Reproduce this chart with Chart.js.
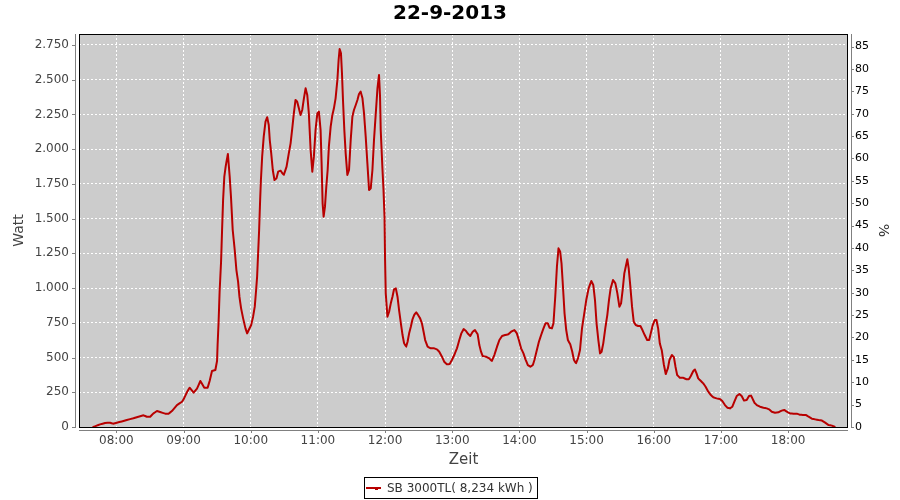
<!DOCTYPE html>
<html><head><meta charset="utf-8">
<script src="https://cdn.jsdelivr.net/npm/chart.js@4.4.0/dist/chart.umd.min.js"></script>
<style>html,body{margin:0;padding:0;background:#fff;}</style>
</head><body>
<canvas id="c" width="900" height="500"></canvas>
<script>
const chartTitle = '22-9-2013';
const seriesLabel = 'SB 3000TL( 8,234 kWh )';
const xTitle = 'Zeit';
const yTitle = 'Watt';
const y2Title = '%';
// time of day, minutes after midnight
const times = [
459.4,462.4,465.4,469.9,474.4,477.0,480.4,484.8,489.3,495.2,
499.7,504.2,507.2,510.2,513.1,516.2,519.1,523.6,526.6,529.6,
534.1,538.6,540.0,543.0,545.4,549.0,552.0,555.0,558.5,561.5,
563.3,565.4,568.4,569.9,570.4,571.3,572.2,573.5,574.4,575.3,
576.4,577.6,578.5,579.6,581.2,582.4,583.9,585.7,587.2,588.7,
589.9,591.4,593.2,595.3,596.8,598.2,600.4,602.1,603.6,604.8,
605.7,606.6,607.5,608.4,609.1,610.2,611.6,613.2,614.7,616.1,
617.0,618.3,619.7,621.2,623.0,624.5,626.6,629.5,632.0,634.0,
635.6,637.1,638.5,640.0,641.5,643.0,644.5,646.0,647.5,649.0,
650.5,651.9,653.5,655.0,656.4,657.9,659.5,660.9,662.4,663.3,
664.2,665.1,666.3,667.5,668.7,669.8,671.4,672.9,674.3,675.8,
677.4,678.5,679.4,680.6,681.5,682.4,683.6,684.8,686.3,687.8,
689.3,690.8,692.2,693.8,695.3,696.7,698.2,699.8,701.2,702.7,
704.2,705.7,707.2,708.7,710.1,711.7,713.2,714.6,715.5,716.1,
717.7,718.6,719.5,720.0,720.6,722.1,723.6,725.1,726.6,728.0,
729.6,731.1,732.5,734.1,735.6,737.0,738.8,740.1,741.5,743.0,
744.5,746.0,747.8,749.5,751.3,752.9,754.4,755.8,758.0,760.9,
763.9,766.3,768.4,770.8,772.8,775.2,777.7,779.7,781.8,784.2,
786.3,788.1,790.2,792.3,794.3,796.1,798.3,800.3,802.7,804.2,
805.7,807.2,810.2,813.1,815.3,817.6,820.0,822.1,824.5,827.2,
830.1,832.6,835.5,837.7,839.5,841.5,843.6,845.4,847.5,849.8,
852.0,853.4,855.2,857.4,859.4,861.5,863.3,865.4,866.9,869.0,
870.4,872.0,873.5,874.9,876.4,877.6,878.9,880.3,881.8,883.3,
885.4,887.2,888.7,890.5,892.3,894.1,895.9,897.7,899.7,901.8,
904.2,906.0,907.5,908.9,910.5,912.0,913.4,914.9,916.7,918.5,
920.0,921.5,923.6,925.7,927.5,929.3,930.8,932.2,933.7,935.3,
936.4,937.6,939.1,940.6,942.1,943.9,946.0,948.1,949.9,951.9,
954.1,955.9,957.3,959.1,960.9,962.4,963.9,965.4,967.2,969.0,
970.7,972.6,974.0,976.2,978.0,979.4,980.9,983.3,986.0,989.3,
991.3,993.1,995.3,996.7,998.2,999.7,1002.1,1004.2,1006.3,1008.7,
1011.0,1013.2,1016.1,1019.1,1021.2,1023.6,1025.7,1028.1,1030.2,1032.0,
1034.1,1036.5,1038.5,1040.6,1043.0,1045.1,1046.9,1048.1,1049.9,1052.0,
1054.9,1058.0,1060.9,1063.0,1065.4,1068.3,1071.4,1074.3,1076.8,1078.8,
1081.8,1084.8,1087.8,1090.2,1093.2,1096.1,1098.3,1101.2,1104.2,1107.2,
1110.2,1113.1,1116.2,1119.1,1121.5
];
// power in watt
const watts = [
0,10,19,29,31,24,31,40,50,63,
74,84,74,74,98,115,108,96,96,115,
158,182,199,250,283,247,276,331,283,283,
331,403,410,475,590,758,974,1190,1418,1632,
1802,1874,1917,1965,1802,1650,1418,1274,1130,1046,
938,854,782,710,674,698,734,794,866,986,
1082,1250,1418,1634,1778,1946,2090,2198,2230,2174,
2066,1970,1850,1778,1790,1838,1845,1814,1874,1970,
2042,2150,2258,2354,2342,2294,2246,2282,2366,2438,
2390,2258,1994,1838,1946,2138,2258,2270,2138,1898,
1610,1514,1586,1730,1850,2018,2162,2246,2294,2366,
2498,2642,2721,2690,2546,2354,2138,1970,1814,1850,
2066,2234,2282,2318,2354,2397,2414,2366,2258,2090,
1898,1706,1718,1850,2066,2258,2438,2534,2378,2138,
1850,1706,1514,1202,962,794,830,890,938,991,
998,938,842,746,662,602,578,614,674,722,
775,806,826,806,782,746,686,626,578,566,
566,559,542,506,470,451,453,482,518,566,
626,674,705,691,669,655,686,698,667,590,
542,511,506,494,475,518,578,626,655,662,
667,686,698,674,626,566,530,487,446,434,
446,482,542,614,662,710,746,746,715,710,
746,938,1154,1286,1262,1178,1010,818,698,626,
595,542,482,458,494,554,710,806,914,998,
1051,1022,914,746,626,530,542,602,710,806,
914,998,1058,1034,962,866,890,986,1106,1166,
1207,1142,1010,866,758,734,727,727,698,662,
626,626,674,734,770,770,710,602,550,450,
381,422,482,518,502,434,374,355,355,343,
343,367,403,415,386,350,331,314,290,254,
230,214,206,202,187,158,139,134,146,182,
223,238,223,190,194,223,226,206,175,158,
146,139,134,127,110,103,106,118,122,110,
98,96,96,89,86,86,74,60,55,50,
46,31,14,10,2
];
// axis ranges
const xRange = [446.6, 1133.5];   // 07:27 .. 18:53
const wattRange = [0, 2829];
const pctRange = [0, 87.8];
const wattStep = 250, pctStep = 5, hourStep = 60;

const FONT = 'DejaVu Sans';
Chart.defaults.font.family = FONT;
const lineColor = '#b80000';

function fmtWatt(v){ return String(Math.round(v)).replace(/\B(?=(\d{3})+(?!\d))/g, '.'); }
function fmtTime(v){ const h=Math.floor(v/60), m=Math.round(v%60); return String(h).padStart(2,'0')+':'+String(m).padStart(2,'0'); }

const frame = {
  id: 'frame',
  beforeDraw(chart){
    const a = chart.chartArea, ctx = chart.ctx;
    ctx.save();
    ctx.fillStyle = '#ffffff'; ctx.fillRect(0,0,chart.width,chart.height);
    ctx.fillStyle = '#cccccc'; ctx.fillRect(a.left, a.top, a.right-a.left, a.bottom-a.top);
    ctx.restore();
  },
  afterDraw(chart){
    const a = chart.chartArea, ctx = chart.ctx;
    ctx.save();
    // plot outline
    ctx.strokeStyle = '#000'; ctx.lineWidth = 1;
    ctx.strokeRect(a.left+0.5, a.top+0.5, a.right-a.left-1, a.bottom-a.top);
    // offset axis lines
    ctx.strokeStyle = '#808080';
    ctx.beginPath();
    ctx.moveTo(a.left-3.5, a.top); ctx.lineTo(a.left-3.5, a.bottom+1);
    ctx.moveTo(a.right+3.5, a.top); ctx.lineTo(a.right+3.5, a.bottom+1);
    ctx.moveTo(a.left, a.bottom+3.5); ctx.lineTo(a.right, a.bottom+3.5);
    ctx.stroke();
    // tick marks
    const sy = chart.scales.y, sy1 = chart.scales.y1, sx = chart.scales.x;
    ctx.beginPath();
    sy.ticks.forEach(t => { const p = Math.round(sy.getPixelForValue(t.value))+0.5; ctx.moveTo(a.left-7, p); ctx.lineTo(a.left-3, p); });
    sy1.ticks.forEach(t => { const p = Math.round(sy1.getPixelForValue(t.value))+0.5; ctx.moveTo(a.right+3, p); ctx.lineTo(a.right+6, p); });
    sx.ticks.forEach(t => { const p = Math.round(sx.getPixelForValue(t.value))+0.5; ctx.moveTo(p, a.bottom+3); ctx.lineTo(p, a.bottom+6); });
    ctx.stroke();
    // legend
    const ds = chart.data.datasets[0];
    ctx.font = '12px "' + FONT + '"';
    const tw = ctx.measureText(ds.label).width;
    const bw = Math.round(tw + 27), bx = Math.round(chart.width/2 - bw/2), by = 477;
    ctx.strokeStyle = '#000'; ctx.lineWidth = 1;
    ctx.strokeRect(bx+0.5, by+0.5, bw, 21);
    ctx.strokeStyle = ds.borderColor; ctx.lineWidth = 2;
    ctx.beginPath(); ctx.moveTo(bx+2, by+11); ctx.lineTo(bx+17, by+11); ctx.stroke();
    ctx.fillStyle = ds.borderColor; ctx.fillRect(bx+11, by+11, 3, 2);
    ctx.fillStyle = '#333'; ctx.textAlign = 'left'; ctx.textBaseline = 'middle';
    ctx.fillText(ds.label, bx+23, by+11.5);
    ctx.restore();
  }
};

new Chart(document.getElementById('c'), {
  type: 'line',
  data: {
    datasets: [{
      label: seriesLabel,
      data: times.map((t, i) => ({x: t, y: watts[i]})),
      borderColor: lineColor,
      backgroundColor: lineColor,
      borderWidth: 2,
      borderJoinStyle: 'round',
      borderCapStyle: 'round',
      pointRadius: 0,
      tension: 0.0001,
      fill: false,
      yAxisID: 'y'
    }]
  },
  options: {
    responsive: false,
    animation: false,
    devicePixelRatio: 1,
    layout: { padding: 0 },
    plugins: {
      legend: { display: false },
      tooltip: { enabled: false },
      title: { display: true, text: chartTitle, color: '#000', font: { size: 20, weight: 'bold', family: FONT }, padding: { top: 2, bottom: 8 } }
    },
    scales: {
      x: {
        type: 'linear', position: 'bottom',
        min: xRange[0], max: xRange[1],
        afterFit(s){ s.height = 73; },
        ticks: { stepSize: hourStep, includeBounds: false, autoSkip: false, maxRotation: 0, padding: 7, color: '#444', font: { size: 12 }, callback: v => fmtTime(v) },
        grid: { color: '#ffffff', lineWidth: 1, drawTicks: false },
        border: { display: false, dash: [2, 2] },
        title: { display: true, text: xTitle, color: '#444', font: { size: 15 }, padding: { top: 0, bottom: 31 } }
      },
      y: {
        type: 'linear', position: 'left',
        min: wattRange[0], max: wattRange[1],
        afterFit(s){ s.width = 79; },
        ticks: { stepSize: wattStep, includeBounds: false, padding: 10, color: '#444', font: { size: 12 }, callback: v => fmtWatt(v) },
        grid: { color: '#ffffff', lineWidth: 1, drawTicks: false },
        border: { display: false, dash: [2, 2] },
        title: { display: true, text: yTitle, color: '#444', font: { size: 14 }, padding: { top: 11, bottom: 0 } }
      },
      y1: {
        type: 'linear', position: 'right',
        min: pctRange[0], max: pctRange[1],
        afterFit(s){ s.width = 52; },
        ticks: { stepSize: pctStep, includeBounds: false, padding: 7, color: '#000', font: { size: 11 } },
        grid: { drawOnChartArea: false, drawTicks: false },
        border: { display: false },
        title: { display: true, text: y2Title, color: '#333', font: { size: 14 }, padding: { top: 9, bottom: 0 } }
      }
    }
  },
  plugins: [frame]
});
</script>
</body></html>
